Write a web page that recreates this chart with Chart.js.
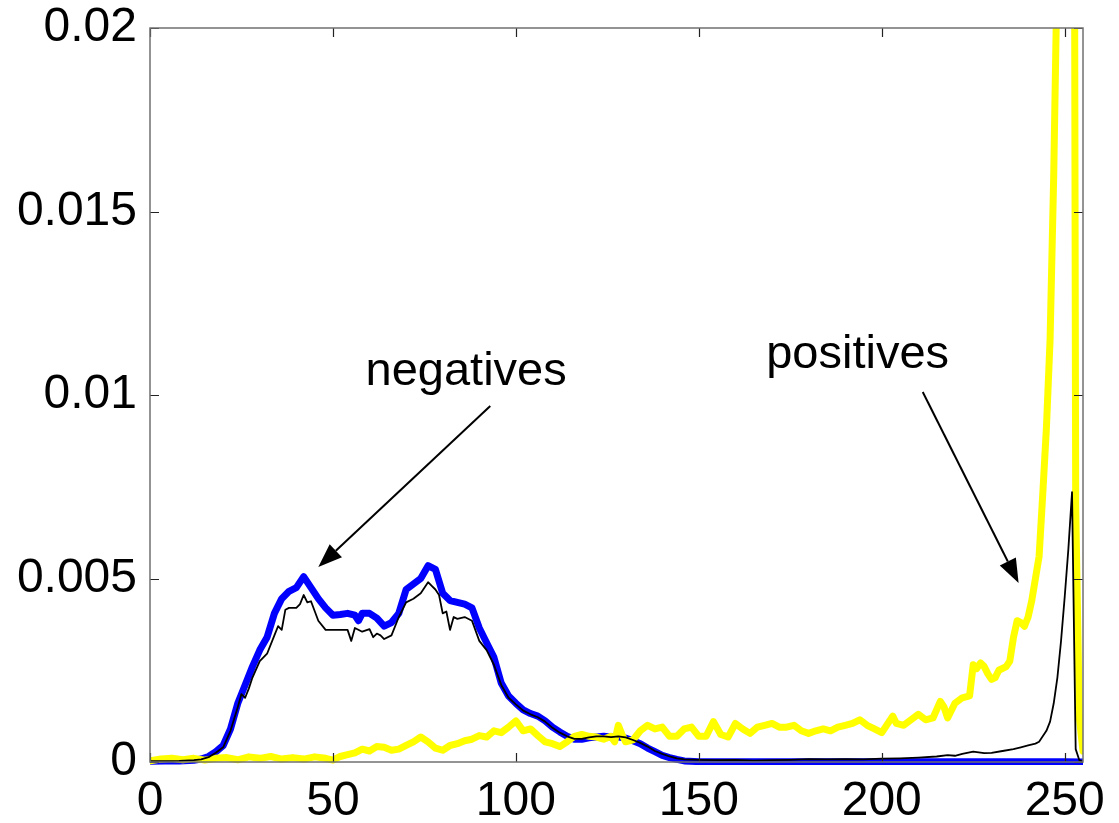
<!DOCTYPE html>
<html><head><meta charset="utf-8">
<script src="https://cdn.jsdelivr.net/npm/chart.js@4/dist/chart.umd.min.js"></script>
<style>html,body{margin:0;padding:0;background:#fff}#wrap{width:1119px;height:823px;position:relative}</style>
</head><body><div id="wrap"><canvas id="c" width="1119" height="823"></canvas></div>
<script>
// Tick positions and labels
const xTicks = [0, 50, 100, 150, 200, 250];
const yTicks = [0, 0.005, 0.01, 0.015, 0.02];
const yTickLabels = ['0', '0.005', '0.01', '0.015', '0.02'];

// Values are read in units of 1e-3
const UNIT = 1e-3;

// Thick blue curve
const blueX = [0,4,8,12,14,16,18,20,22,24,26,28,30,32,34,36,38,40,42,44,46,48,50,52,54,56,57,58,60,62,64,66,68,70,72,74,76,78,80,82,84,86,88,90,92,94,96,98,100,102,104,106,108,110,112,114,116,118,120,122,124,126,128,130,132,134,136,138,140,142,144,146,150,160,180,200,220,240,250,255];
const blueY = [0.02,0.03,0.03,0.05,0.08,0.15,0.28,0.45,0.9,1.6,2.1,2.6,3.05,3.4,4.05,4.45,4.65,4.75,5.05,4.75,4.45,4.2,4.0,4.02,4.05,4.0,3.85,4.05,4.05,3.92,3.7,3.8,4.05,4.7,4.85,5.0,5.35,5.25,4.6,4.4,4.35,4.3,4.2,3.65,3.25,2.85,2.15,1.8,1.6,1.42,1.32,1.25,1.12,0.95,0.82,0.7,0.62,0.62,0.66,0.68,0.7,0.68,0.68,0.65,0.58,0.5,0.38,0.28,0.18,0.12,0.07,0.03,0.01,0.005,0.005,0.005,0.005,0.005,0.005,0.0];

// Thin black curve
const blackX = [0,8,12,14,16,18,20,22,24,25,26,27,28,30,32,34,35,36,37,38,40,41,42,43,44,46,48,50,52,54,55,56,58,60,61,62,63,64,66,68,70,72,74,76,77,78,79,80,81,82,83,84,86,88,90,92,94,96,98,100,102,104,106,108,110,112,114,116,118,120,122,124,126,128,130,132,134,136,138,140,142,144,146,150,155,160,165,170,175,180,185,190,195,200,205,210,215,218,220,222,225,228,230,233,236,238,240,242,243,244,245,246,247,248,249,250,251,252,253,254,255];
const blackY = [0.02,0.03,0.05,0.07,0.13,0.25,0.4,0.85,1.5,1.85,1.75,2.0,2.3,2.75,2.95,3.45,3.7,3.6,4.15,4.2,4.2,4.3,4.55,4.35,4.38,3.85,3.6,3.6,3.6,3.6,3.3,3.65,3.55,3.62,3.4,3.5,3.45,3.35,3.45,3.95,4.35,4.45,4.6,4.9,4.8,4.7,4.55,4.05,4.1,3.6,3.95,3.9,3.95,3.85,3.3,3.05,2.65,2.1,1.75,1.57,1.4,1.3,1.22,1.1,0.93,0.8,0.7,0.63,0.63,0.67,0.7,0.7,0.68,0.7,0.67,0.6,0.52,0.42,0.3,0.22,0.15,0.1,0.07,0.06,0.05,0.06,0.04,0.05,0.06,0.08,0.07,0.08,0.07,0.09,0.1,0.12,0.15,0.19,0.17,0.22,0.28,0.24,0.25,0.3,0.35,0.4,0.45,0.5,0.55,0.7,0.85,1.1,1.6,2.3,3.3,4.5,5.8,7.35,0.35,0.05,0.0];

// Thick yellow curve
const yellowX = [0,3,6,9,12,15,18,21,24,27,30,33,36,39,42,45,48,50,52,54,56,58,60,62,64,66,68,70,72,74,76,78,80,82,84,86,88,90,92,94,96,98,100,102,104,106,108,110,112,114,116,118,120,122,124,126,127,128,129,130,132,134,136,138,140,142,144,146,148,150,152,154,156,158,160,162,164,166,168,170,172,174,176,178,180,182,184,186,188,190,192,194,196,198,200,202,203,204,206,208,210,212,214,216,217,218,220,222,224,225,226,227,228,229,230,231,232,234,235,236,237,238,239,240,241,242,243,244,245,246,247,248,249,250,251,252,253,254,255];
const yellowY = [0.03,0.08,0.1,0.06,0.1,0.05,0.1,0.12,0.06,0.14,0.1,0.15,0.08,0.12,0.08,0.14,0.1,0.05,0.15,0.2,0.25,0.35,0.3,0.42,0.4,0.32,0.35,0.45,0.55,0.68,0.55,0.38,0.32,0.45,0.5,0.58,0.62,0.72,0.68,0.85,0.8,0.95,1.12,0.85,0.9,0.72,0.55,0.5,0.42,0.55,0.7,0.75,0.7,0.68,0.62,0.7,0.55,1.0,0.75,0.55,0.6,0.85,1.0,0.9,0.95,0.7,0.7,0.9,0.95,0.7,0.7,1.1,0.75,0.68,1.05,0.9,0.78,0.95,1.0,1.05,0.95,0.95,1.0,0.85,0.78,0.85,0.9,0.85,0.95,1.0,1.05,1.15,1.0,0.9,0.8,1.1,1.25,1.05,1.0,1.15,1.3,1.15,1.2,1.65,1.5,1.2,1.6,1.75,1.8,2.65,2.55,2.7,2.6,2.4,2.25,2.3,2.5,2.6,2.75,3.4,3.85,3.8,3.7,3.95,4.4,5.0,5.6,7.3,9.1,11.5,16,22,35,50,60,55,7,1.2,0.3];

// Annotation texts with anchors in data coordinates
const annotTexts = ['negatives', 'positives'];
const annotTextPos = [[86.4, 0.01027], [193.4, 0.01074]];
const annotArrowFrom = [[93.0, 0.0097], [211.2, 0.01008]];
const annotArrowTo = [[46.0, 0.00531], [237.4, 0.00488]];

const pts = (xs, ys) => xs.map((x, i) => ({x: x, y: ys[i] * UNIT}));

const frameAndNotes = {
  id: 'frameAndNotes',
  afterDatasetsDraw(chart) {
    const {ctx, chartArea: a, scales: {x, y}} = chart;
    ctx.save();
    // inward ticks
    ctx.strokeStyle = '#222';
    ctx.lineWidth = 1.2;
    const tl = 9;
    ctx.beginPath();
    xTicks.forEach(v => {
      const px = Math.round(x.getPixelForValue(v)) + 0.5;
      ctx.moveTo(px, a.bottom); ctx.lineTo(px, a.bottom - tl);
      ctx.moveTo(px, a.top); ctx.lineTo(px, a.top + tl);
    });
    yTicks.forEach(v => {
      const py = Math.round(y.getPixelForValue(v)) + 0.5;
      ctx.moveTo(a.left, py); ctx.lineTo(a.left + tl, py);
      ctx.moveTo(a.right, py); ctx.lineTo(a.right - tl, py);
    });
    ctx.stroke();
    // frame
    ctx.strokeStyle = '#707070';
    ctx.lineWidth = 1.5;
    ctx.strokeRect(a.left, a.top, a.right - a.left, a.bottom - a.top);
    // annotations
    ctx.fillStyle = '#000';
    ctx.font = '47px "Liberation Sans", Arial, sans-serif';
    ctx.textAlign = 'center';
    ctx.textBaseline = 'alphabetic';
    annotTexts.forEach((t, i) => {
      ctx.fillText(t, x.getPixelForValue(annotTextPos[i][0]), y.getPixelForValue(annotTextPos[i][1]));
    });
    ctx.strokeStyle = '#000';
    ctx.lineWidth = 2;
    annotArrowFrom.forEach((f, i) => {
      const x1 = x.getPixelForValue(f[0]), y1 = y.getPixelForValue(f[1]);
      const x2 = x.getPixelForValue(annotArrowTo[i][0]), y2 = y.getPixelForValue(annotArrowTo[i][1]);
      const ang = Math.atan2(y2 - y1, x2 - x1);
      const hl = 24, hw = 9;
      const bx = x2 - hl * Math.cos(ang), by = y2 - hl * Math.sin(ang);
      ctx.beginPath(); ctx.moveTo(x1, y1); ctx.lineTo(bx, by); ctx.stroke();
      ctx.beginPath();
      ctx.moveTo(x2, y2);
      ctx.lineTo(bx + hw * Math.sin(ang), by - hw * Math.cos(ang));
      ctx.lineTo(bx - hw * Math.sin(ang), by + hw * Math.cos(ang));
      ctx.closePath(); ctx.fill();
    });
    ctx.restore();
  }
};

new Chart(document.getElementById('c'), {
  type: 'line',
  data: {
    datasets: [
      {label: 'black', data: pts(blackX, blackY), borderColor: '#000000', borderWidth: 1.8},
      {label: 'yellow', data: pts(yellowX, yellowY), borderColor: '#ffff00', borderWidth: 7},
      {label: 'blue', data: pts(blueX, blueY), borderColor: '#0000ff', borderWidth: 7}
    ]
  },
  options: {
    responsive: false,
    animation: false,
    events: [],
    layout: {padding: {top: 28, right: 36, left: 0, bottom: 0}},
    elements: {point: {radius: 0}, line: {tension: 0, borderJoinStyle: 'round', borderCapStyle: 'round'}},
    datasets: {line: {clip: {left: 0, top: 0, right: 0, bottom: 3}}},
    plugins: {legend: {display: false}, tooltip: {enabled: false}},
    scales: {
      x: {
        type: 'linear', min: 0, max: 255,
        grid: {display: false, drawTicks: false},
        border: {display: false},
        afterBuildTicks: s => { s.ticks = xTicks.map(v => ({value: v})); },
        afterFit: s => { s.height = 61; s.paddingLeft = 0; s.paddingRight = 0; },
        ticks: {color: '#000', padding: 11, maxRotation: 0, autoSkip: false,
          font: {family: '"Liberation Sans", Arial, sans-serif', size: 48}}
      },
      y: {
        type: 'linear', min: 0, max: 0.02,
        grid: {display: false, drawTicks: false},
        border: {display: false},
        afterBuildTicks: s => { s.ticks = yTicks.map(v => ({value: v})); },
        afterFit: s => { s.width = 150; s.paddingTop = 0; s.paddingBottom = 0; },
        ticks: {color: '#000', padding: 13, autoSkip: false,
          callback: (v, i) => yTickLabels[i],
          font: {family: '"Liberation Sans", Arial, sans-serif', size: 48}}
      }
    }
  },
  plugins: [frameAndNotes]
});
</script>
</body></html>
